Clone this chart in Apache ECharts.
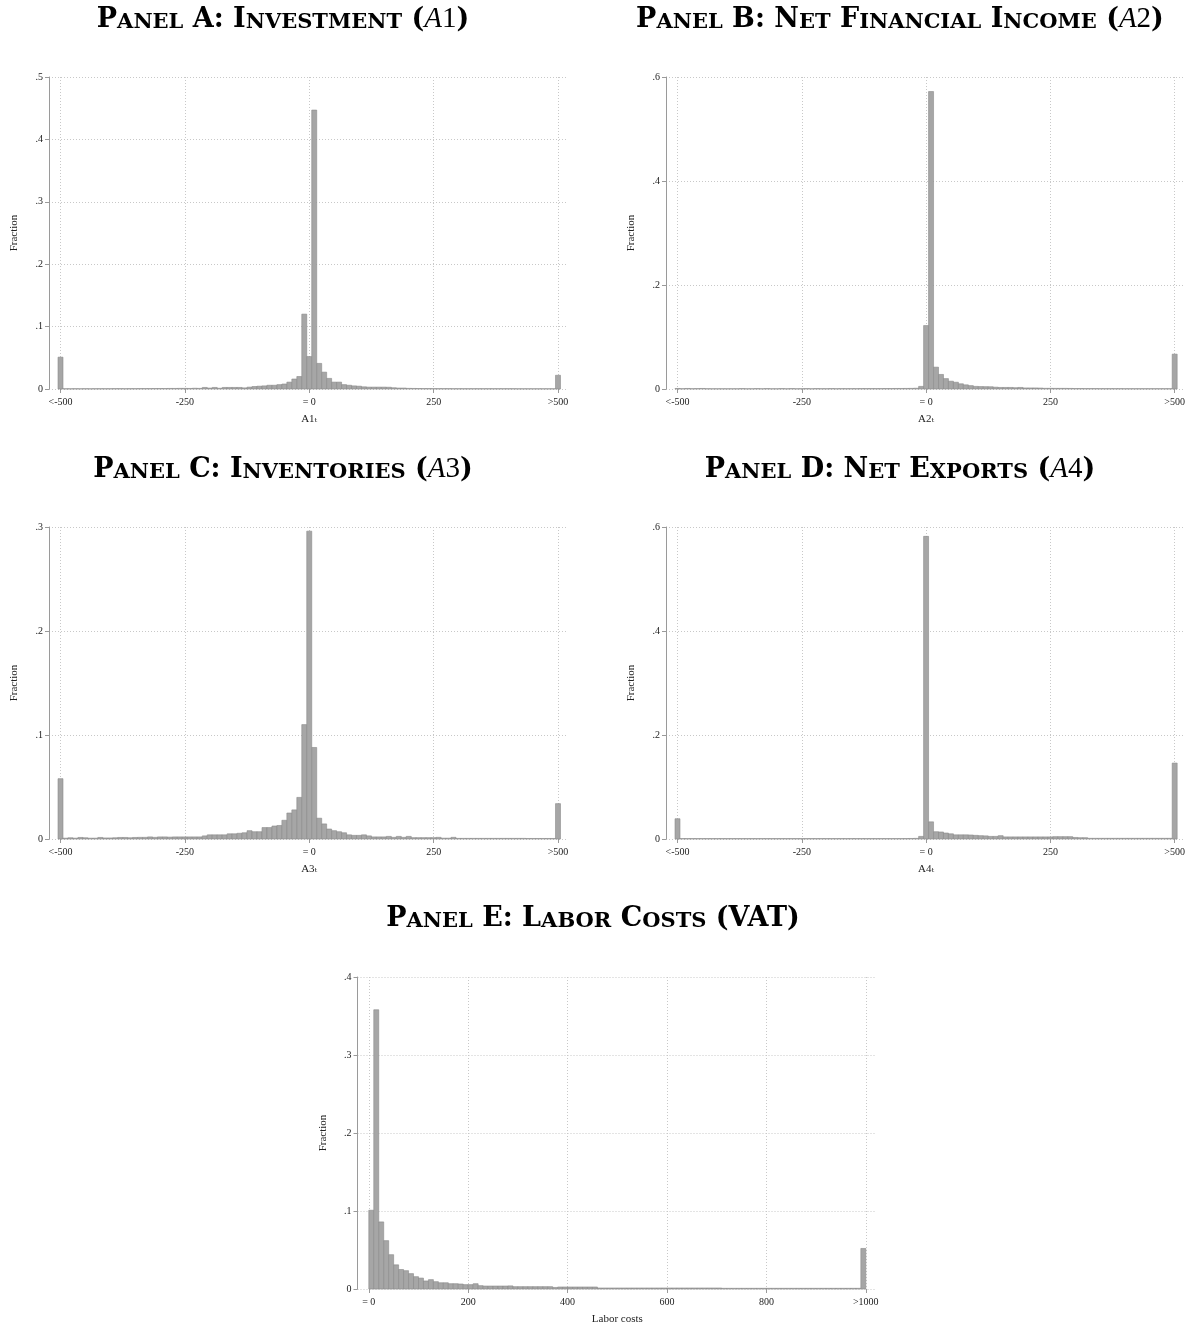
<!DOCTYPE html>
<html><head><meta charset="utf-8">
<script src="https://cdn.jsdelivr.net/npm/echarts@6/dist/echarts.min.js"></script>
<style>html,body{margin:0;padding:0;background:#fff}#c{width:1188px;height:1326px}</style>
</head><body><div id="c"></div>
<script>
// Bin values (fractions). Panels A-D: 101 bins of width 10 centred at -500,-490,...,500
const panelA = [
0.051,0.0004,0.0004,0.0005,0.0004,0.0005,0.0004,0.0005,0.0005,0.0005,
0.0005,0.0006,0.0006,0.0005,0.0006,0.0006,0.0007,0.0007,0.0007,0.0008,
0.0008,0.0008,0.0009,0.0009,0.001,0.001,0.0009,0.0012,0.001,0.0025,
0.0015,0.0025,0.0012,0.0025,0.0025,0.0025,0.0025,0.0018,0.003,0.004,
0.0045,0.005,0.006,0.006,0.007,0.008,0.011,0.016,0.020,0.120,
0.052,0.447,0.041,0.027,0.017,0.011,0.011,0.007,0.006,0.005,
0.0045,0.0035,0.003,0.003,0.003,0.003,0.0028,0.002,0.0015,0.0015,
0.001,0.0009,0.0008,0.0007,0.0007,0.0006,0.0006,0.0006,0.0006,0.0005,
0.0005,0.0005,0.0005,0.0005,0.0005,0.0005,0.0005,0.0005,0.0005,0.0005,
0.0005,0.0005,0.0004,0.0004,0.0004,0.0004,0.0004,0.0004,0.0004,0.0004,
0.022];
const panelB = [
0.001,0.0006,0.001,0.0006,0.0008,0.001,0.0006,0.0005,0.0005,0.0005,
0.0005,0.0005,0.0005,0.0008,0.0005,0.0005,0.0008,0.0005,0.0008,0.0005,
0.0005,0.0008,0.0005,0.0008,0.0005,0.0006,0.0008,0.0005,0.0008,0.0006,
0.0006,0.0008,0.0006,0.0007,0.0007,0.0007,0.0007,0.0008,0.0008,0.0008,
0.0008,0.0008,0.0009,0.0009,0.001,0.001,0.0011,0.0012,0.0015,0.005,
0.122,0.572,0.042,0.028,0.020,0.015,0.013,0.010,0.008,0.0065,
0.005,0.0047,0.0045,0.0043,0.0035,0.003,0.003,0.003,0.0025,0.003,
0.002,0.002,0.002,0.0018,0.0013,0.0013,0.0012,0.0012,0.0012,0.0011,
0.0009,0.0009,0.0008,0.0008,0.0008,0.0007,0.0007,0.0007,0.0007,0.0007,
0.0006,0.0006,0.0006,0.0006,0.0006,0.0006,0.0006,0.0006,0.0006,0.0006,
0.067];
const panelC = [
0.058,0.0008,0.0012,0.0008,0.0015,0.0012,0.0008,0.0008,0.0015,0.001,
0.001,0.0012,0.0015,0.0015,0.0012,0.0015,0.0016,0.0016,0.002,0.0016,
0.002,0.002,0.0018,0.002,0.002,0.002,0.002,0.002,0.002,0.003,
0.004,0.004,0.004,0.004,0.005,0.005,0.0055,0.006,0.008,0.007,
0.007,0.011,0.011,0.0125,0.013,0.018,0.025,0.028,0.040,0.110,
0.296,0.088,0.020,0.0145,0.0096,0.008,0.007,0.006,0.004,0.0035,
0.0035,0.004,0.003,0.002,0.002,0.002,0.0025,0.0016,0.0025,0.0016,
0.0025,0.0013,0.0013,0.0013,0.0013,0.0013,0.0016,0.0008,0.0008,0.0016,
0.0006,0.0006,0.0006,0.0006,0.0006,0.0006,0.0006,0.0006,0.0006,0.0006,
0.0006,0.0006,0.0006,0.0006,0.0005,0.0005,0.0005,0.0005,0.0005,0.0005,
0.034];
const panelD = [
0.039,0.0008,0.0008,0.0008,0.0008,0.0008,0.0008,0.0008,0.0008,0.0008,
0.0008,0.0008,0.0008,0.0008,0.0008,0.0008,0.0008,0.0008,0.0008,0.0008,
0.0008,0.0008,0.0008,0.0008,0.0008,0.0008,0.0008,0.0008,0.0008,0.0008,
0.0008,0.0008,0.0008,0.0008,0.0008,0.0008,0.0008,0.0008,0.0008,0.0008,
0.0008,0.0008,0.0008,0.0008,0.0008,0.0008,0.0009,0.001,0.0012,0.005,
0.582,0.033,0.014,0.0135,0.0115,0.010,0.008,0.008,0.008,0.0077,
0.007,0.0064,0.006,0.005,0.005,0.0064,0.004,0.004,0.004,0.004,
0.004,0.004,0.004,0.004,0.004,0.004,0.0045,0.0045,0.0045,0.0045,
0.003,0.0025,0.0025,0.0013,0.0013,0.0013,0.0013,0.0013,0.0013,0.0013,
0.0013,0.0013,0.0013,0.0013,0.0013,0.0013,0.0013,0.0013,0.0013,0.0013,
0.146];
// Panel E: 100 bins of width 10 from 0 to 1000 (last = >1000)
const panelE = [
0.101,0.358,0.086,0.062,0.044,0.031,0.025,0.0235,0.0197,0.0158,
0.014,0.0103,0.012,0.0094,0.008,0.008,0.0068,0.0068,0.0064,0.0056,
0.0056,0.0068,0.0043,0.0038,0.0038,0.0038,0.0038,0.0038,0.004,0.003,
0.003,0.003,0.003,0.003,0.003,0.003,0.003,0.002,0.0026,0.0026,
0.0026,0.0026,0.0026,0.0026,0.0026,0.0026,0.0013,0.0013,0.0013,0.0013,
0.0013,0.0013,0.0013,0.0013,0.0013,0.0013,0.0013,0.0013,0.0013,0.0013,
0.0013,0.0013,0.0013,0.0013,0.0013,0.0013,0.0013,0.0013,0.0013,0.0013,
0.0013,0.0009,0.0009,0.0009,0.0009,0.0009,0.0009,0.0009,0.0009,0.0009,
0.0009,0.0009,0.0009,0.0009,0.0009,0.0009,0.0009,0.0009,0.0009,0.0009,
0.0009,0.0009,0.0009,0.0009,0.0009,0.0009,0.0009,0.0009,0.0009,0.052];

const xTicksAD = [-500, -250, 0, 250, 500];
const xTickLabelsAD = ['<-500', '-250', '= 0', '250', '>500'];
const xTicksE = [0, 200, 400, 600, 800, 1000];
const xTickLabelsE = ['= 0', '200', '400', '600', '800', '>1000'];
const xNames = ['A1ₜ', 'A2ₜ', 'A3ₜ', 'A4ₜ', 'Labor costs'];
const yMaxes = [0.5, 0.6, 0.3, 0.6, 0.4];
const yIntervals = [0.1, 0.2, 0.1, 0.2, 0.1];

const SERIF = '"Liberation Serif", "DejaVu Serif", serif';
const TSERIF = '"DejaVu Serif", "Liberation Serif", serif';
const GRIDC = '#c8c8c8';
const AXC = '#9a9a9a';

const panels = [
  {vals: panelA, outerL: 49, outerW: 519, innerL: 60.5, innerW: 497.5, top: 77, binStart: -505, xMin: -500, xMax: 500, xInt: 250, ticks: xTicksAD, labels: xTickLabelsAD},
  {vals: panelB, outerL: 666, outerW: 519, innerL: 677.5, innerW: 497.5, top: 77, binStart: -505, xMin: -500, xMax: 500, xInt: 250, ticks: xTicksAD, labels: xTickLabelsAD},
  {vals: panelC, outerL: 49, outerW: 519, innerL: 60.5, innerW: 497.5, top: 527, binStart: -505, xMin: -500, xMax: 500, xInt: 250, ticks: xTicksAD, labels: xTickLabelsAD},
  {vals: panelD, outerL: 666, outerW: 519, innerL: 677.5, innerW: 497.5, top: 527, binStart: -505, xMin: -500, xMax: 500, xInt: 250, ticks: xTicksAD, labels: xTickLabelsAD},
  {vals: panelE, outerL: 357.5, outerW: 517, innerL: 368.8, innerW: 497, top: 977, binStart: 0, xMin: 0, xMax: 1000, xInt: 200, ticks: xTicksE, labels: xTickLabelsE}
];
const BINW = 10;
const PH = 312;

const grid = [], xAxis = [], yAxis = [], series = [];
panels.forEach((p, i) => {
  const yMax = yMaxes[i], yInt = yIntervals[i];
  grid.push({left: p.outerL, top: p.top, width: p.outerW, height: PH, containLabel: false});
  xAxis.push({gridIndex: 2*i, type: 'value', min: 0, max: 1, show: false});
  yAxis.push({
    gridIndex: 2*i, type: 'value', min: 0, max: yMax, interval: yInt,
    name: 'Fraction', nameLocation: 'middle', nameGap: 29,
    nameTextStyle: {fontFamily: SERIF, fontSize: 11, color: '#222'},
    axisLine: {show: true, onZero: false, lineStyle: {color: AXC, width: 1}},
    axisTick: {show: true, length: 4, lineStyle: {color: AXC}},
    axisLabel: {margin: 6, fontFamily: SERIF, fontSize: 10, color: '#222',
      formatter: v => v === 0 ? '0' : String(Math.round(v*10)/10).replace(/^0/, '')},
    splitLine: {show: true, lineStyle: {color: GRIDC, type: [1, 2], width: 1}}
  });
  grid.push({left: p.innerL, top: p.top, width: p.innerW, height: PH, containLabel: false});
  xAxis.push({
    gridIndex: 2*i+1, type: 'value', min: p.xMin, max: p.xMax, interval: p.xInt,
    name: xNames[i], nameLocation: 'middle', nameGap: 25,
    nameTextStyle: {fontFamily: SERIF, fontSize: 11, color: '#222'},
    axisLine: {show: false},
    axisTick: {show: true, length: 4, lineStyle: {color: AXC}},
    axisLabel: {margin: 8, fontFamily: SERIF, fontSize: 10, color: '#222', hideOverlap: false,
      showMinLabel: true, showMaxLabel: true,
      formatter: v => { const k = p.ticks.indexOf(v); return k >= 0 ? p.labels[k] : ''; }},
    splitLine: {show: true, lineStyle: {color: GRIDC, type: [1, 2], width: 1}}
  });
  yAxis.push({gridIndex: 2*i+1, type: 'value', min: 0, max: yMax, show: false, splitLine: {show: false}});
  series.push({
    type: 'custom', xAxisIndex: 2*i+1, yAxisIndex: 2*i+1, clip: false,
    dimensions: ['x0', 'x1', 'y'],
    encode: {x: [0, 1], y: 2},
    data: p.vals.map((v, k) => [p.binStart + k*BINW, p.binStart + (k+1)*BINW, v]),
    renderItem: (params, api) => {
      const a = api.coord([api.value(0), api.value(2)]);
      const b = api.coord([api.value(1), 0]);
      return {type: 'rect', shape: {x: a[0], y: a[1], width: b[0]-a[0], height: b[1]-a[1]},
        style: {fill: '#a6a6a6', stroke: '#8a8a8a', lineWidth: 0.6}};
    }
  });
});

const big = {fontFamily: TSERIF, fontSize: 27, fontWeight: 'bold', color: '#111', lineHeight: 27, verticalAlign: 'bottom'};
const rich = {
  b: big,
  s: Object.assign({}, big, {fontSize: 21, lineHeight: 21}),
  i: Object.assign({}, big, {fontFamily: SERIF, fontWeight: 'normal', fontStyle: 'italic', fontSize: 29, lineHeight: 29}),
  n: Object.assign({}, big, {fontFamily: SERIF, fontWeight: 'normal', fontSize: 29, lineHeight: 29})
};
const titles = [
  {x: 283, y: 19, t: '{b|P}{s|ANEL}{b| A: I}{s|NVESTMENT}{b| (}{i|A}{n|1}{b|)}'},
  {x: 900, y: 19, t: '{b|P}{s|ANEL}{b| B: N}{s|ET}{b| F}{s|INANCIAL}{b| I}{s|NCOME}{b| (}{i|A}{n|2}{b|)}'},
  {x: 283, y: 469, t: '{b|P}{s|ANEL}{b| C: I}{s|NVENTORIES}{b| (}{i|A}{n|3}{b|)}'},
  {x: 900, y: 469, t: '{b|P}{s|ANEL}{b| D: N}{s|ET}{b| E}{s|XPORTS}{b| (}{i|A}{n|4}{b|)}'},
  {x: 593, y: 919, t: '{b|P}{s|ANEL}{b| E: L}{s|ABOR}{b| C}{s|OSTS}{b| (VAT)}'}
];
const graphic = titles.map(t => ({
  type: 'text', x: t.x, y: t.y,
  style: {text: t.t, rich: rich, textAlign: 'center', textVerticalAlign: 'middle'}
}));

const chart = echarts.init(document.getElementById('c'), null, {renderer: 'canvas'});
chart.setOption({
  backgroundColor: '#fff', animation: false,
  grid, xAxis, yAxis, series, graphic
});
</script></body></html>
